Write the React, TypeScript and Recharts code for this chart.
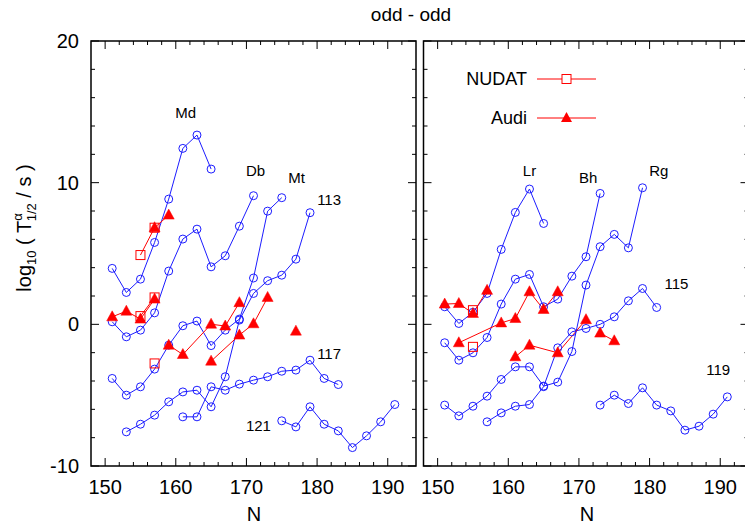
import React from 'react';
import { ComposedChart, Line, XAxis, YAxis, Scatter, ReferenceArea } from 'recharts';

// ---------- data: left panel (Z = 101, 105, 109, 113, 117, 121) ----------
const mdN = [151, 153, 155, 157, 159, 161, 163, 165];
const mdT = [3.95, 2.25, 3.19, 5.78, 8.84, 12.42, 13.36, 10.96];
const dbN = [151, 153, 155, 157, 159, 161, 163, 165, 167, 169, 171];
const dbT = [0.18, -0.88, -0.41, 0.81, 3.76, 6.02, 6.72, 4.06, 4.84, 6.93, 9.08];
const mtN = [151, 153, 155, 157, 159, 161, 163, 165, 167, 169, 171, 173, 175];
const mtT = [-3.82, -5.0, -4.41, -3.16, -1.47, -0.1, 0.23, -1.5, -0.41, 0.37, 3.27, 7.99, 8.94];
const nhN = [153, 155, 157, 159, 161, 163, 165, 167, 169, 171, 173, 175, 177, 179];
const nhT = [-7.59, -7.05, -6.41, -5.47, -4.77, -4.65, -5.82, -3.7, 0.3, 2.18, 3.08, 3.47, 4.6, 7.88];
const tsN = [161, 163, 165, 167, 169, 171, 173, 175, 177, 179, 181, 183];
const tsT = [-6.53, -6.53, -4.41, -4.65, -4.22, -3.94, -3.7, -3.31, -3.23, -2.53, -3.82, -4.25];
const z121N = [175, 177, 179, 181, 183, 185, 187, 189, 191];
const z121T = [-6.81, -7.24, -5.82, -7.05, -7.52, -8.7, -7.87, -6.88, -5.66];

const nudatL1N = [155, 157];
const nudatL1T = [4.89, 6.82];
const nudatL2N = [155, 157];
const nudatL2T = [0.58, 1.9];
const nudatL3N = [157];
const nudatL3T = [-2.76];

const audiL1N = [157, 159];
const audiL1T = [6.82, 7.71];
const audiL2N = [151, 153, 155, 157];
const audiL2T = [0.53, 0.93, 0.37, 1.78];
const audiL3N = [159, 161, 165, 167, 169];
const audiL3T = [-1.47, -2.13, 0.01, -0.12, 1.53];
const audiL4N = [165, 169, 171, 173];
const audiL4T = [-2.6, -0.76, 0.04, 1.9];
const audiL5N = [177];
const audiL5T = [-0.48];

// ---------- data: right panel (Z = 103, 107, 111, 115, 119) ----------
const lrN = [151, 153, 155, 157, 159, 161, 163, 165];
const lrT = [1.24, 0.06, 0.85, 2.18, 5.29, 7.9, 9.55, 7.12];
const bhN = [151, 153, 155, 157, 159, 161, 163, 165, 167, 169, 171, 173];
const bhT = [-1.3, -2.53, -2.01, -0.93, 1.43, 3.19, 3.52, 1.24, 1.78, 3.4, 4.77, 9.24];
const rgN = [151, 153, 155, 157, 159, 161, 163, 165, 167, 169, 171, 173, 175, 177, 179];
const rgT = [-5.7, -6.46, -5.78, -5.07, -3.89, -3.0, -3.0, -4.36, -4.08, -1.92, 2.77, 5.48, 6.35, 5.4, 9.64];
const mcN = [157, 159, 161, 163, 165, 167, 169, 171, 173, 175, 177, 179, 181];
const mcT = [-6.88, -6.25, -5.78, -5.66, -4.4, -1.66, -0.53, -0.29, 0.0, 0.53, 1.66, 2.53, 1.19];
const z119N = [173, 175, 177, 179, 181, 183, 185, 187, 189, 191];
const z119T = [-5.7, -5.0, -5.59, -4.48, -5.7, -6.11, -7.47, -7.19, -6.34, -5.12];

const nudatR1N = [155];
const nudatR1T = [1.0];
const nudatR2N = [155];
const nudatR2T = [-1.59];

const audiR1N = [151, 153, 155, 157];
const audiR1T = [1.43, 1.47, 0.77, 2.4];
const audiR2N = [153, 159, 161, 163, 165, 167];
const audiR2T = [-1.3, 0.1, 0.41, 2.3, 1.05, 2.3];
const audiR3N = [161, 163, 167, 171];
const audiR3T = [-2.29, -1.47, -2.01, 0.33];
const audiR4N = [173, 175];
const audiR4T = [-0.62, -1.16];

// ---------- labels ----------
const labelTextL = ['Md', 'Db', 'Mt', '113', '117', '121'];
const labelNL = [161.4, 171.3, 177.1, 181.7, 181.7, 171.7];
const labelVL = [14.9, 10.8, 10.3, 8.8, -2.1, -7.2];
const labelTextR = ['Lr', 'Bh', 'Rg', '115', '119'];
const labelNR = [163.0, 171.3, 181.3, 183.8, 189.7];
const labelVR = [10.8, 10.3, 10.8, 2.85, -3.2];

const legendNames = ['NUDAT', 'Audi'];
const titleText = 'odd - odd';
const xTitle = 'N';

// ---------- ticks ----------
const xMinorTicks = [150, 152, 154, 156, 158, 160, 162, 164, 166, 168, 170, 172, 174, 176, 178, 180, 182, 184, 186, 188, 190, 192];
const xMajorTicks = [150, 160, 170, 180, 190];
const yMinorTicks = [-10, -8, -6, -4, -2, 0, 2, 4, 6, 8, 10, 12, 14, 16, 18, 20];
const yMajorTicks = [-10, 0, 10, 20];
const xDomain = [148, 194];
const yDomain = [-10, 20];

const BLUE = '#1c1cff';
const RED = '#ff0000';
const FONT = '"Liberation Sans", Arial, Helvetica, sans-serif';
const PT = 41;
const PB = 466;

const zip = (n: number[], t: number[]) => n.map((N, i) => ({ N, v: t[i] }));
const zipLabels = (txt: string[], n: number[], v: number[]) => txt.map((t, i) => ({ N: n[i], v: v[i], t }));

const CircleDot = (p: any) => {
  if (p.cx == null || p.cy == null) return <g key={`c${p.index}`} />;
  return <circle key={`c${p.index}`} cx={p.cx} cy={p.cy} r={4} fill="none" stroke={BLUE} strokeWidth={1} />;
};
const SquareDot = (p: any) => {
  if (p.cx == null || p.cy == null) return <g key={`s${p.index}`} />;
  return <rect key={`s${p.index}`} x={p.cx - 4.5} y={p.cy - 4.5} width={9} height={9} fill="none" stroke={RED} strokeWidth={1} />;
};
const TriDot = (p: any) => {
  if (p.cx == null || p.cy == null) return <g key={`t${p.index}`} />;
  const { cx, cy } = p;
  return <polygon key={`t${p.index}`} points={`${cx},${cy - 6} ${cx - 5.5},${cy + 4} ${cx + 5.5},${cy + 4}`} fill={RED} stroke={RED} strokeWidth={0.5} />;
};

const LabelShape = (p: any) => (
  <text x={p.cx} y={p.cy + 5} textAnchor="middle" fontSize={15} fontFamily={FONT} fill="#000">
    {p.payload.t}
  </text>
);

const makeXTick = () => (p: any) => {
  const v = p.payload.value;
  const x = p.x;
  const major = xMajorTicks.includes(v);
  const len = major ? 8 : 4;
  return (
    <g>
      <line x1={x} x2={x} y1={PB} y2={PB - len} stroke="#000" strokeWidth={1} />
      <line x1={x} x2={x} y1={PT} y2={PT + len} stroke="#000" strokeWidth={1} />
      {major && (
        <text x={x} y={PB + 28} textAnchor="middle" fontSize={20} fontFamily={FONT} fill="#000">
          {v}
        </text>
      )}
    </g>
  );
};

const makeYTick = (pl: number, pr: number, showLabel: boolean) => (p: any) => {
  const v = p.payload.value;
  const y = p.y;
  const major = yMajorTicks.includes(v);
  const len = major ? 8 : 4;
  return (
    <g>
      <line x1={pl} x2={pl + len} y1={y} y2={y} stroke="#000" strokeWidth={1} />
      <line x1={pr - len} x2={pr} y1={y} y2={y} stroke="#000" strokeWidth={1} />
      {showLabel && major && (
        <text x={pl - 12} y={y + 7} textAnchor="end" fontSize={20} fontFamily={FONT} fill="#000">
          {v}
        </text>
      )}
    </g>
  );
};

type Series = { n: number[]; t: number[] };

const makeLines = (list: Series[], key: string, color: string, dot: any) =>
  list.map((s, i) => (
    <Line
      key={`${key}${i}`}
      data={zip(s.n, s.t)}
      dataKey="v"
      type="linear"
      stroke={color}
      strokeWidth={1}
      dot={dot}
      activeDot={false}
      isAnimationActive={false}
      legendType="none"
    />
  ));

const Panel = (props: {
  width: number;
  margin: any;
  pl: number;
  pr: number;
  showYLabels: boolean;
  blue: Series[];
  nudat: Series[];
  audi: Series[];
  labels: { N: number; v: number; t: string }[];
}) => (
  <ComposedChart width={props.width} height={529} margin={props.margin}>
    <XAxis
      type="number"
      dataKey="N"
      domain={xDomain}
      ticks={xMinorTicks}
      interval={0}
      height={1}
      axisLine={false}
      tickLine={false}
      tick={makeXTick()}
      allowDataOverflow
    />
    <YAxis
      type="number"
      domain={yDomain}
      ticks={yMinorTicks}
      interval={0}
      width={1}
      axisLine={false}
      tickLine={false}
      tick={makeYTick(props.pl, props.pr, props.showYLabels)}
      allowDataOverflow
    />
    <ReferenceArea x1={148} x2={194} y1={-10} y2={20} fill="none" fillOpacity={0} stroke="#000" strokeWidth={1.5} ifOverflow="visible" />
    {makeLines(props.blue, 'b', BLUE, CircleDot)}
    {makeLines(props.nudat, 'n', RED, SquareDot)}
    {makeLines(props.audi, 'a', RED, TriDot)}
    <Scatter data={props.labels} dataKey="v" shape={LabelShape} isAnimationActive={false} legendType="none" />
  </ComposedChart>
);

export default function App() {
  const leftBlue: Series[] = [
    { n: mdN, t: mdT },
    { n: dbN, t: dbT },
    { n: mtN, t: mtT },
    { n: nhN, t: nhT },
    { n: tsN, t: tsT },
    { n: z121N, t: z121T },
  ];
  const leftNudat: Series[] = [
    { n: nudatL1N, t: nudatL1T },
    { n: nudatL2N, t: nudatL2T },
    { n: nudatL3N, t: nudatL3T },
  ];
  const leftAudi: Series[] = [
    { n: audiL1N, t: audiL1T },
    { n: audiL2N, t: audiL2T },
    { n: audiL3N, t: audiL3T },
    { n: audiL4N, t: audiL4T },
    { n: audiL5N, t: audiL5T },
  ];
  const rightBlue: Series[] = [
    { n: lrN, t: lrT },
    { n: bhN, t: bhT },
    { n: rgN, t: rgT },
    { n: mcN, t: mcT },
    { n: z119N, t: z119T },
  ];
  const rightNudat: Series[] = [
    { n: nudatR1N, t: nudatR1T },
    { n: nudatR2N, t: nudatR2T },
  ];
  const rightAudi: Series[] = [
    { n: audiR1N, t: audiR1T },
    { n: audiR2N, t: audiR2T },
    { n: audiR3N, t: audiR3T },
    { n: audiR4N, t: audiR4T },
  ];

  return (
    <div style={{ position: 'absolute', left: 0, top: 0, width: 745, height: 529, overflow: 'hidden', background: '#fff' }}>
      <div style={{ position: 'absolute', left: 0, top: 0 }}>
        <Panel
          width={420}
          margin={{ top: 41, right: 4, bottom: 62, left: 90 }}
          pl={91}
          pr={416}
          showYLabels={true}
          blue={leftBlue}
          nudat={leftNudat}
          audi={leftAudi}
          labels={zipLabels(labelTextL, labelNL, labelVL)}
        />
      </div>
      <div style={{ position: 'absolute', left: 420, top: 0 }}>
        <Panel
          width={340}
          margin={{ top: 41, right: 11.5, bottom: 62, left: 2.5 }}
          pl={3.5}
          pr={328.5}
          showYLabels={false}
          blue={rightBlue}
          nudat={rightNudat}
          audi={rightAudi}
          labels={zipLabels(labelTextR, labelNR, labelVR)}
        />
      </div>
      <svg width={745} height={529} style={{ position: 'absolute', left: 0, top: 0, pointerEvents: 'none' }}>
        <text x={411} y={21} textAnchor="middle" fontSize={19} fontFamily={FONT} fill="#000">{titleText}</text>
        <text x={254} y={521} textAnchor="middle" fontSize={20} fontFamily={FONT} fill="#000">{xTitle}</text>
        <text x={587} y={521} textAnchor="middle" fontSize={20} fontFamily={FONT} fill="#000">{xTitle}</text>
        <text transform="translate(31,228) rotate(-90)" textAnchor="middle" fontSize={20} fontFamily={FONT} fill="#000">
          log<tspan fontSize={13} dy={5}>10</tspan>
          <tspan dy={-5}> ( T</tspan>
          <tspan fontSize={13} dy={-9}>α</tspan>
          <tspan fontSize={13} dx={-8} dy={14}>1/2</tspan>
          <tspan dy={-5}> / s )</tspan>
        </text>
        <g>
          <text x={527} y={85} textAnchor="end" fontSize={18} fontFamily={FONT} fill="#000">{legendNames[0]}</text>
          <line x1={537} x2={596} y1={79} y2={79} stroke={RED} strokeWidth={1} />
          <rect x={562} y={74.5} width={9} height={9} fill="#fff" stroke={RED} strokeWidth={1} />
          <text x={527} y={124} textAnchor="end" fontSize={18} fontFamily={FONT} fill="#000">{legendNames[1]}</text>
          <line x1={537} x2={596} y1={118} y2={118} stroke={RED} strokeWidth={1} />
          <polygon points="566.5,112 561,122 572,122" fill={RED} />
        </g>
      </svg>
    </div>
  );
}
